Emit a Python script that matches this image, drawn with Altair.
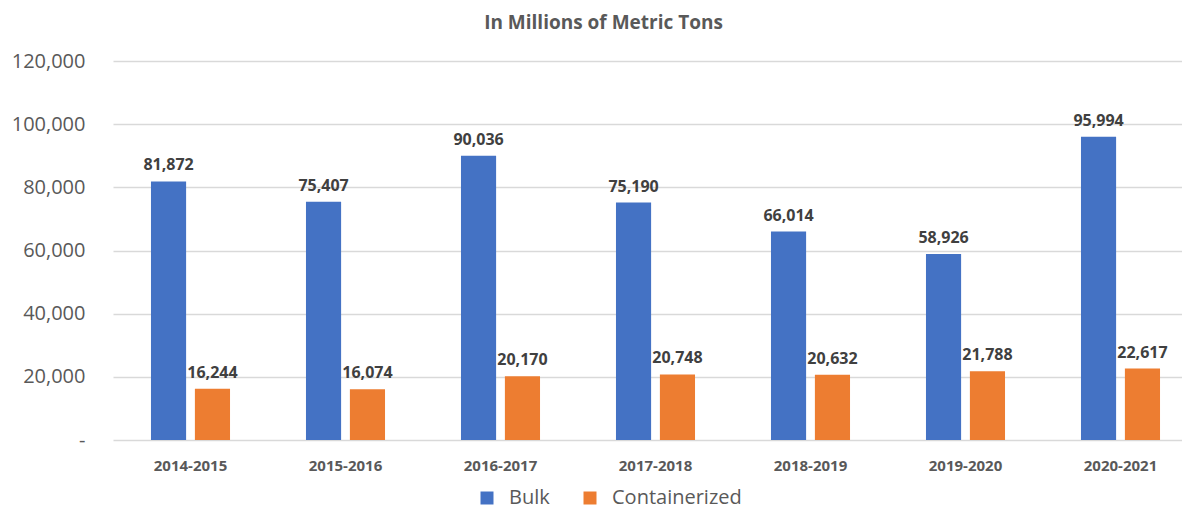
import altair as alt
import pandas as pd

years = ["2014-2015", "2015-2016", "2016-2017", "2017-2018", "2018-2019", "2019-2020", "2020-2021"]
bulk = [81872, 75407, 90036, 75190, 66014, 58926, 95994]
containerized = [16244, 16074, 20170, 20748, 20632, 21788, 22617]
series = ["Bulk", "Containerized"]
colors = ["#4472C4", "#ED7D31"]
y_ticks = [0, 20000, 40000, 60000, 80000, 100000, 120000]

rows = []
for i, yr in enumerate(years):
    rows.append({"year": yr, "series": "Bulk", "value": bulk[i]})
    rows.append({"year": yr, "series": "Containerized", "value": containerized[i]})
df = pd.DataFrame(rows)

FONT = "Open Sans"
GRAY = "#595959"

x = alt.X(
    "year:N", sort=years,
    scale=alt.Scale(range=[0, 1085], paddingInner=0.49, paddingOuter=0.245),
    axis=alt.Axis(title=None, labelAngle=0, labelFont=FONT, labelFontSize=15,
                  labelFontWeight="bold", labelColor=GRAY, labelPadding=18,
                  ticks=False, domain=False, grid=False),
)
xo = alt.XOffset("series:N", sort=series, scale=alt.Scale(paddingInner=0.2, paddingOuter=0))
y = alt.Y(
    "value:Q",
    scale=alt.Scale(domain=[0, 120000], nice=False),
    axis=alt.Axis(title=None, values=y_ticks,
                  labelExpr="datum.value == 0 ? '-\u2002' : format(datum.value, ',')",
                  labelFont=FONT, labelFontSize=20, labelColor=GRAY, labelPadding=28,
                  ticks=False, domain=False, grid=True, gridColor="#d9d9d9", gridWidth=1.5),
)

bars = alt.Chart(df).mark_bar().encode(
    x=x, xOffset=xo, y=y,
    color=alt.Color("series:N", sort=series,
                    scale=alt.Scale(domain=series, range=colors),
                    legend=alt.Legend(orient="none", legendX=364, legendY=427,
                                      direction="horizontal", title=None,
                                      symbolType="square", symbolSize=169,
                                      symbolStrokeWidth=0, labelFont=FONT,
                                      labelFontSize=20, labelColor=GRAY,
                                      labelOffset=12, columnPadding=30, padding=0)),
)

labels = alt.Chart(df).mark_text(
    baseline="alphabetic", dy=-11, font=FONT, fontSize=16, fontWeight="bold", color="#404040"
).encode(
    x=x, xOffset=xo, y=y,
    text=alt.Text("value:Q", format=","),
)

chart = (bars + labels).properties(
    width=1069, height=379,
    title=alt.TitleParams("In Millions of Metric Tons", font=FONT, fontSize=19,
                          fontWeight="bold", color=GRAY, anchor="middle", dx=-44, offset=18),
    autosize=alt.AutoSizeParams(type="none"),
    padding={"left": 105, "top": 53, "right": 0, "bottom": 69},
    background="white",
).configure_view(stroke=None)

chart.save("out.html", embed_options={"renderer": "svg", "actions": False})
